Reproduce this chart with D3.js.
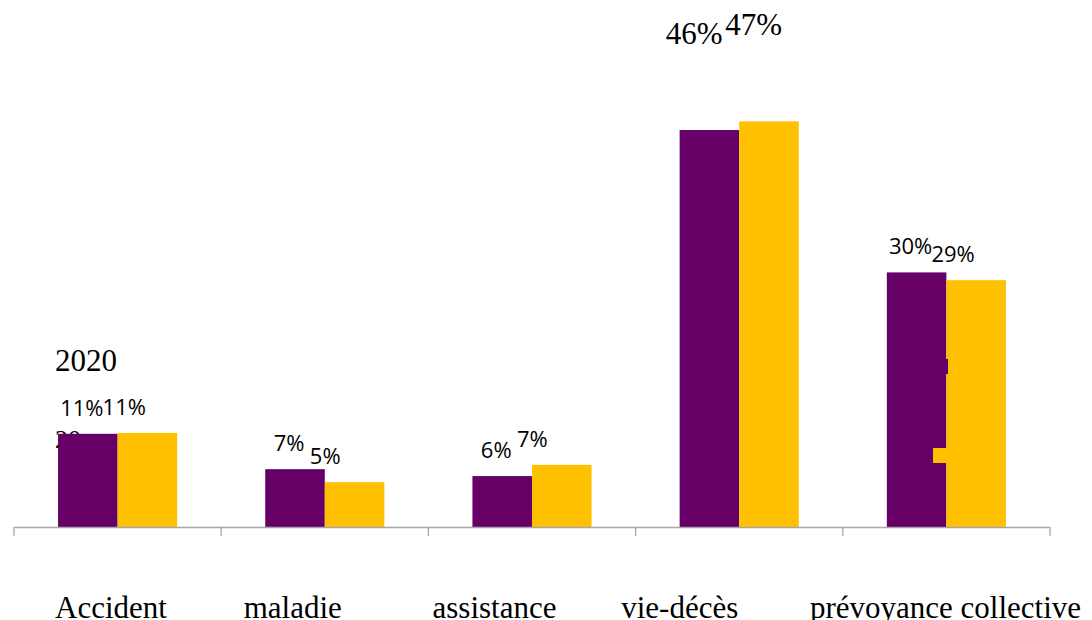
<!DOCTYPE html>
<html><head><meta charset="utf-8">
<script src="https://cdn.jsdelivr.net/npm/d3@7"></script>
<style>body{margin:0;background:#fff}svg{display:block}</style>
</head><body><svg id="c" width="1092" height="620"></svg>
<script>
// ---- data ----
const categories = ["Accident", "maladie", "assistance", "vie-décès", "prévoyance collective"];
const seriesNames = ["2020", "2021"];
const values2020 = [10.8, 6.7, 5.9, 46.0, 29.5];
const values2021 = [10.9, 5.2, 7.2, 47.0, 28.6];
const serifLabelCategories = ["vie-décès"];

// ---- style ----
const colors = {"2020": "#660066", "2021": "#FFC000"};
const serif = "'Liberation Serif','Times New Roman',serif";
const sans = "'Open Sans','Liberation Sans',sans-serif";

const svg = d3.select("#c");
const W = 1092, H = 620;
const axisY = 527;

const x = d3.scaleBand().domain(categories).range([14, 1050]);
const bw = x.bandwidth();
const groupW = bw * 0.575;
const x1 = d3.scaleBand().domain(seriesNames).range([0, groupW]);
const y = d3.scaleLinear().domain([0, 50]).range([axisY, 95.5]);

const data = seriesNames.map((s, si) => ({
  name: s,
  values: categories.map((c, i) => ({cat: c, v: (si === 0 ? values2020 : values2021)[i], s}))
}));

const barX = d => x(d.cat) + (bw - groupW) / 2 + x1(d.s);

// legend text (2020) and partially hidden (2021) text
svg.append("text").attr("x", 55).attr("y", 371)
  .style("font-family", serif).style("font-size", "31px").attr("fill", "#000").text(seriesNames[0]);
svg.append("text").attr("x", 55).attr("y", 448)
  .style("font-family", serif).style("font-size", "26px").attr("fill", "#000").text("20");

function drawBars(series) {
  svg.append("g").selectAll("rect").data(series.values).join("rect")
    .attr("x", barX)
    .attr("y", d => y(d.v))
    .attr("width", x1.bandwidth())
    .attr("height", d => axisY - y(d.v))
    .attr("fill", colors[series.name]);
}
function legendKey(name, ky) {
  svg.append("rect").attr("x", 933).attr("y", ky).attr("width", 15).attr("height", 15)
    .attr("fill", colors[name]);
}

drawBars(data[0]);
legendKey(seriesNames[1], 448);
drawBars(data[1]);
legendKey(seriesNames[0], 359);

// axis
const ax = svg.append("g").attr("stroke", "#a6a6a6").attr("stroke-width", 1.3);
ax.append("line").attr("x1", x.range()[0]).attr("x2", x.range()[1]).attr("y1", axisY + 0.5).attr("y2", axisY + 0.5);
const tickPos = categories.map(c => x(c)).concat([x.range()[1]]);
ax.selectAll("line.t").data(tickPos).join("line").attr("class", "t")
  .attr("x1", d => d).attr("x2", d => d).attr("y1", axisY).attr("y2", axisY + 9);

// category labels
const lx = d3.scalePoint().domain(categories).range([55, 810]);
svg.append("g").selectAll("text").data(categories).join("text")
  .attr("x", d => lx(d)).attr("y", 618)
  .style("font-family", serif).style("font-size", "31px").attr("fill", "#000")
  .text(d => d);

// value labels
data.forEach((series, si) => {
  svg.append("g").selectAll("text").data(series.values).join("text")
    .each(function(d) {
      const t = d3.select(this);
      const big = serifLabelCategories.includes(d.cat);
      if (big) {
        t.attr("x", barX(d) - 14).attr("y", y(d.v) - 86).attr("text-anchor", "start")
          .style("font-family", serif).style("font-size", "31px");
      } else if (si === 0) {
        t.attr("x", barX(d) + x1.bandwidth() / 2 - 6).attr("y", y(d.v) - 18).attr("text-anchor", "middle")
          .style("font-family", sans).style("font-size", "22px");
      } else {
        t.attr("x", barX(d) - 15).attr("y", y(d.v) - 18).attr("text-anchor", "start")
          .style("font-family", sans).style("font-size", "22px");
      }
      t.attr("fill", "#000").text(Math.round(d.v) + "%");
    });
});
</script></body></html>
